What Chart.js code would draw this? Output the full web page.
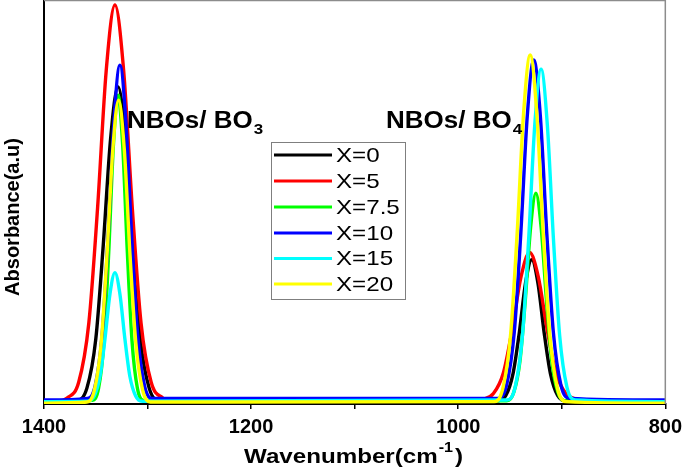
<!DOCTYPE html>
<html>
<head>
<meta charset="utf-8">
<script src="https://cdn.jsdelivr.net/npm/chart.js@4.4.0/dist/chart.umd.min.js"></script>
<style>
  html, body { margin: 0; padding: 0; background: #fff; }
  canvas { display: block; }
</style>
</head>
<body>
<canvas id="ftir_chart" width="688" height="468"></canvas>
<script>
// series labels and colours
var seriesLabels = ['X=0', 'X=5', 'X=7.5', 'X=10', 'X=15', 'X=20'];
var seriesColors = ['#000000', '#ff0000', '#00ff00', '#0000ff', '#00ffff', '#ffff00'];
var tickLabels = ['1400', '1200', '1000', '800'];

// wavenumber (cm-1) / absorbance (a.u.)
var wnX0 = [1400, 1368, 1358.5, 1350, 1343, 1335.7, 1328.5, 1321.3, 1314, 1307, 1298.5, 1289,
            962, 954, 947, 941, 935, 929, 923, 917, 911, 904, 896, 800];
var absX0 = [0.6, 0.9, 4.0, 16.1, 38.6, 65.8, 78.7, 65.8, 38.6, 16.1, 4.0, 0.9,
             0.8, 2.1, 7.6, 17.7, 30.0, 35.8, 30.0, 17.7, 7.6, 2.1, 0.8, 0.6];

var wnX5 = [1400, 1386, 1377.7, 1366.5, 1356.7, 1348.3, 1339.9, 1331.5, 1323.1, 1314.7, 1306.3, 1296.5, 1285.3, 1278,
            982, 977.2, 966, 956.2, 947.8, 939.4, 931, 922.6, 914.2, 905.8, 896, 884.8, 878, 800];
var absX5 = [0.6, 0.7, 1.5, 5.4, 20.1, 48.5, 82.8, 99.0, 82.8, 48.5, 20.1, 5.4, 1.5, 0.7,
             0.7, 1.1, 2.6, 7.9, 18.6, 31.5, 37.6, 31.5, 18.6, 7.9, 2.6, 1.1, 0.7, 0.6];

var wnX7_5 = [1400, 1353.3, 1347.3, 1342, 1337.5, 1333, 1328.5, 1324, 1319.5, 1315, 1309.8, 1303.8,
              953, 946.3, 940.3, 935.2, 930.1, 925, 919.9, 914.8, 909.7, 903.8, 897, 800];
var absX7_5 = [0.6, 0.9, 3.9, 15.6, 37.6, 64.1, 76.6, 64.1, 37.6, 15.6, 3.9, 0.9,
               0.8, 2.9, 10.8, 25.8, 43.8, 52.3, 43.8, 25.8, 10.8, 2.9, 0.8, 0.6];

var wnX10 = [1400, 1358, 1350.5, 1343.8, 1338.1, 1332.4, 1326.7, 1321, 1315.3, 1309.6, 1303, 1295.4,
             961.7, 953.3, 945.9, 939.6, 933.3, 927, 920.7, 914.4, 908.1, 900.8, 892.4, 800];
var absX10 = [1.0, 1.4, 4.6, 17.4, 41.5, 70.4, 84.1, 70.4, 41.5, 17.4, 4.6, 1.4,
              1.4, 4.7, 17.7, 42.1, 71.5, 85.4, 71.5, 42.1, 17.7, 4.7, 1.4, 1.0];

var wnX15 = [1400, 1357.9, 1351.5, 1345.9, 1341.1, 1336.3, 1331.5, 1326.7, 1321.9, 1317.1, 1311.5, 1305.1,
             953, 945, 938, 932, 926, 920, 914, 908, 902, 895, 887, 800];
var absX15 = [0.6, 0.7, 2.0, 6.9, 16.2, 27.3, 32.6, 27.3, 16.2, 6.9, 2.0, 0.7,
              1.0, 4.2, 16.9, 40.8, 69.5, 83.1, 69.5, 40.8, 16.9, 4.2, 1.0, 0.6];

var wnX20 = [1400, 1358.7, 1351.3, 1344.8, 1339.2, 1333.6, 1328, 1322.4, 1316.9, 1311.3, 1304.8, 1297.3,
             965.2, 956.8, 949.4, 943.1, 936.8, 930.5, 924.2, 917.9, 911.6, 904.3, 895.9, 800];
var absX20 = [0.2, 0.5, 3.5, 15.1, 36.8, 63.0, 75.4, 63.0, 36.8, 15.1, 3.5, 0.5,
              0.6, 4.0, 17.3, 42.3, 72.4, 86.6, 72.4, 42.3, 17.3, 4.0, 0.6, 0.2];

var wnSets = [wnX0, wnX5, wnX7_5, wnX10, wnX15, wnX20];
var absSets = [absX0, absX5, absX7_5, absX10, absX15, absX20];

function toPoints(xs, ys) {
  var pts = [];
  for (var i = 0; i < xs.length; i++) {
    pts.push({x: xs[i], y: ys[i]});
  }
  return pts;
}

var datasets = [];
for (var i = 0; i < seriesLabels.length; i++) {
  datasets.push({
    label: seriesLabels[i],
    data: toPoints(wnSets[i], absSets[i]),
    borderColor: seriesColors[i],
    backgroundColor: seriesColors[i],
    borderWidth: 3.4,
    pointRadius: 0,
    fill: false,
    cubicInterpolationMode: 'monotone',
    order: seriesLabels.length - 1 - i   // later series drawn on top
  });
}

function wideText(ctx, text, x, y, sx) {
  ctx.save();
  ctx.translate(x, y);
  ctx.scale(sx, 1);
  ctx.fillText(text, 0, 0);
  ctx.restore();
  return ctx.measureText(text).width * sx;
}

var decorPlugin = {
  id: 'decor',
  afterDraw: function(chart) {
    var ctx = chart.ctx;
    var area = chart.chartArea;
    ctx.save();

    // gray top / right frame
    ctx.strokeStyle = '#8c8c8c';
    ctx.lineWidth = 1.5;
    ctx.beginPath();
    ctx.moveTo(area.left, area.top - 0.5);
    ctx.lineTo(area.right, area.top - 0.5);
    ctx.lineTo(area.right, area.bottom);
    ctx.stroke();

    ctx.fillStyle = '#000';
    ctx.textBaseline = 'alphabetic';
    ctx.textAlign = 'left';

    // peak annotations
    ctx.font = 'bold 23px "Liberation Sans", Arial, sans-serif';
    var w = wideText(ctx, 'NBOs/ BO', 127, 128, 1.13);
    ctx.font = 'bold 15px "Liberation Sans", Arial, sans-serif';
    wideText(ctx, '3', 127 + w + 1, 134, 1.13);
    ctx.font = 'bold 23px "Liberation Sans", Arial, sans-serif';
    w = wideText(ctx, 'NBOs/ BO', 386, 128, 1.13);
    ctx.font = 'bold 15px "Liberation Sans", Arial, sans-serif';
    wideText(ctx, '4', 386 + w + 1, 134, 1.13);

    // legend box
    ctx.strokeStyle = '#7f7f7f';
    ctx.lineWidth = 1;
    ctx.fillStyle = '#fff';
    ctx.fillRect(271, 142, 135, 158);
    ctx.strokeRect(271.5, 142.5, 134, 157);
    var rows = [155, 181, 207, 233, 258.5, 284];
    ctx.font = '21px "Liberation Sans", Arial, sans-serif';
    ctx.textBaseline = 'middle';
    for (var i = 0; i < seriesLabels.length; i++) {
      ctx.strokeStyle = seriesColors[i];
      ctx.lineWidth = 3;
      ctx.beginPath();
      ctx.moveTo(274, rows[i]);
      ctx.lineTo(332, rows[i]);
      ctx.stroke();
      ctx.fillStyle = '#000';
      wideText(ctx, seriesLabels[i], 336, rows[i] + 1, 1.15);
    }

    // axis titles
    ctx.textBaseline = 'alphabetic';
    ctx.font = 'bold 21px "Liberation Sans", Arial, sans-serif';
    var x0 = 244;
    w = wideText(ctx, 'Wavenumber(cm', x0, 463, 1.15);
    ctx.font = 'bold 14px "Liberation Sans", Arial, sans-serif';
    var w2 = wideText(ctx, '-1', x0 + w + 1, 452, 1.15);
    ctx.font = 'bold 21px "Liberation Sans", Arial, sans-serif';
    wideText(ctx, ')', x0 + w + w2 + 3, 463, 1.15);

    ctx.save();
    ctx.translate(19, 217);
    ctx.rotate(-Math.PI / 2);
    ctx.textAlign = 'center';
    ctx.font = 'bold 20px "Liberation Sans", Arial, sans-serif';
    ctx.fillText('Absorbance(a.u)', 0, 0);
    ctx.restore();

    ctx.restore();
  }
};

var ctx = document.getElementById('ftir_chart');
var ftirChart = new Chart(ctx, {
  type: 'line',
  data: { datasets: datasets },
  options: {
    responsive: false,
    animation: false,
    layout: { padding: { top: 1, right: 18, left: 0, bottom: 0 } },
    plugins: {
      legend: { display: false },
      tooltip: { enabled: false }
    },
    scales: {
      x: {
        type: 'linear',
        reverse: true,
        min: 800,
        max: 1400,
        ticks: {
          stepSize: 100,
          autoSkip: false,
          maxRotation: 0,
          color: '#000',
          padding: 6,
          font: { family: '"Liberation Sans", Arial, sans-serif', size: 20, weight: 'bold' },
          callback: function(v) {
            return tickLabels.indexOf(String(v)) >= 0 ? String(v) : '';
          }
        },
        grid: { drawOnChartArea: false, drawTicks: true, tickLength: 5, color: '#000', lineWidth: 1.5 },
        border: { display: true, color: '#000', width: 2 },
        afterFit: function(scale) { scale.height = 64; }
      },
      y: {
        min: 0,
        max: 100,
        ticks: { display: false },
        grid: { drawOnChartArea: false, drawTicks: false },
        border: { display: true, color: '#000', width: 2 },
        afterFit: function(scale) { scale.width = 44; }
      }
    }
  },
  plugins: [decorPlugin]
});
</script>
</body>
</html>
